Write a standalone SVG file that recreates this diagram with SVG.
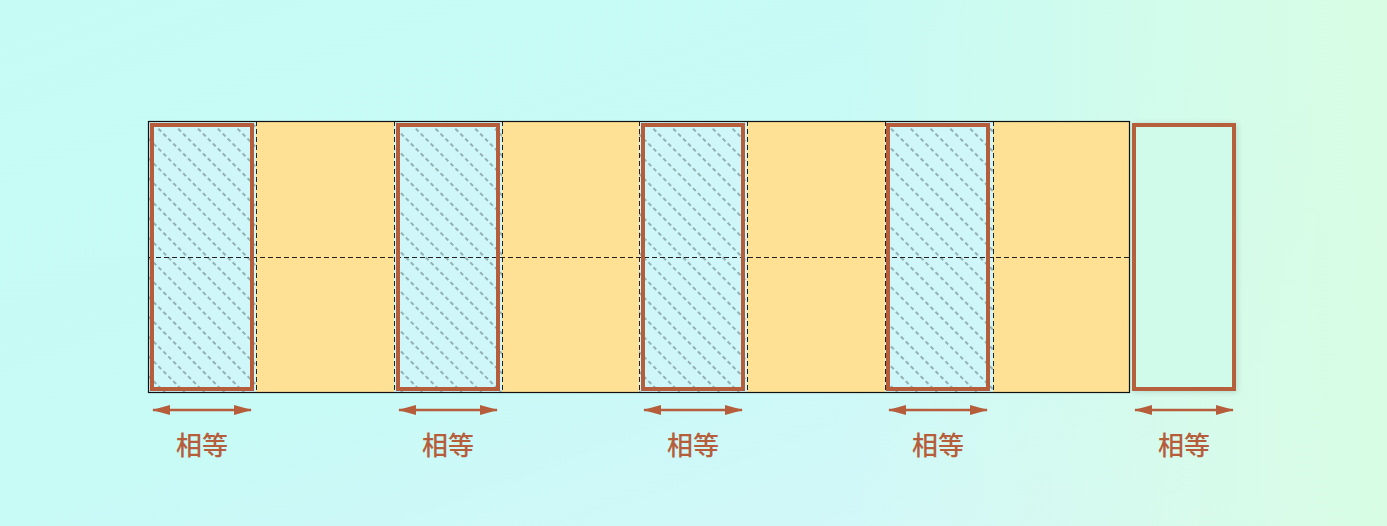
<svg xmlns="http://www.w3.org/2000/svg" width="1387" height="526" viewBox="0 0 1387 526">
<style>
.cell{fill:#cff7f9;}
.dash{stroke:#222;stroke-width:1;stroke-dasharray:5 3;fill:none;}
.frame{fill:none;stroke:#b65e3c;stroke-width:4;}
.arr{stroke:#b65e3c;stroke-width:2.5;fill:none;marker-start:url(#ah);marker-end:url(#ah);}
.lbl{font-family:"Liberation Sans","Noto Sans CJK SC",sans-serif;font-size:26px;font-weight:500;fill:#b65e3c;text-anchor:middle;}
</style>
<defs>
<linearGradient id="bg" x1="0" y1="0" x2="1" y2="1">
<stop offset="0" stop-color="#c6fbf5"/>
<stop offset="0.5" stop-color="#c8faf6"/>
<stop offset="1" stop-color="#d8f6fb"/>
</linearGradient>
<linearGradient id="bg2" x1="0" y1="0" x2="1" y2="0">
<stop offset="0.6" stop-color="#d8fde4" stop-opacity="0"/>
<stop offset="1" stop-color="#d8fde4" stop-opacity="1"/>
</linearGradient>
<pattern id="hatch" patternUnits="userSpaceOnUse" width="14" height="14" patternTransform="rotate(45)">
<line x1="0" y1="7" x2="14" y2="7" stroke="#7f9a9c" stroke-width="1.3" stroke-dasharray="4 3"/>
</pattern>
<marker id="ah" viewBox="0 0 18 10" refX="17" refY="5" markerWidth="18" markerHeight="10" markerUnits="userSpaceOnUse" orient="auto-start-reverse">
<path d="M0,0 L18,5 L0,10 z" fill="#b65e3c"/>
</marker>
<filter id="sh" x="-20%" y="-10%" width="140%" height="120%">
<feGaussianBlur in="SourceAlpha" stdDeviation="3"/>
<feOffset dx="1" dy="1"/>
<feComponentTransfer><feFuncA type="linear" slope="0.15"/></feComponentTransfer>
<feMerge><feMergeNode/><feMergeNode in="SourceGraphic"/></feMerge>
</filter>
</defs>
<rect width="1387" height="526" fill="url(#bg)"/>
<rect width="1387" height="526" fill="url(#bg2)"/>

<g id="strip">
<rect x="148" y="121" width="982" height="272" fill="#ffe196"/>
<rect class="cell" x="148" y="121" width="108" height="272"/>
<rect class="cell" x="394" y="121" width="108" height="272"/>
<rect class="cell" x="639" y="121" width="108" height="272"/>
<rect class="cell" x="885" y="121" width="108" height="272"/>
<rect x="148" y="121" width="108" height="272" fill="url(#hatch)"/>
<rect x="394" y="121" width="108" height="272" fill="url(#hatch)"/>
<rect x="639" y="121" width="108" height="272" fill="url(#hatch)"/>
<rect x="885" y="121" width="108" height="272" fill="url(#hatch)"/>
<path class="dash" d="M256.5,121V393 M394.5,121V393 M502.5,121V393 M639.5,121V393 M747.5,121V393 M885.5,121V393 M993.5,121V393 M148,257.5H1130"/>
<rect x="148.5" y="121.5" width="981" height="271" fill="none" stroke="#111" stroke-width="1.2"/>
</g>

<g id="frame1"><rect class="frame" x="152" y="125" width="100" height="264"/></g>
<g id="frame2"><rect class="frame" x="398" y="125" width="100" height="264"/></g>
<g id="frame3"><rect class="frame" x="643" y="125" width="100" height="264"/></g>
<g id="frame4"><rect class="frame" x="888" y="125" width="100" height="264"/></g>
<g id="frame5"><rect class="frame" x="1134" y="125" width="100" height="264" style="fill:#d0fbeb" filter="url(#sh)"/></g>

<g id="connectors">
<line class="arr" x1="153" y1="410" x2="251" y2="410"/>
<line class="arr" x1="399" y1="410" x2="497" y2="410"/>
<line class="arr" x1="644" y1="410" x2="742" y2="410"/>
<line class="arr" x1="889" y1="410" x2="987" y2="410"/>
<line class="arr" x1="1135" y1="410" x2="1233" y2="410"/>
</g>

<g id="labels">
<text class="lbl" x="202" y="455">相等</text>
<text class="lbl" x="448" y="455">相等</text>
<text class="lbl" x="693" y="455">相等</text>
<text class="lbl" x="938" y="455">相等</text>
<text class="lbl" x="1184" y="455">相等</text>
</g>
</svg>
